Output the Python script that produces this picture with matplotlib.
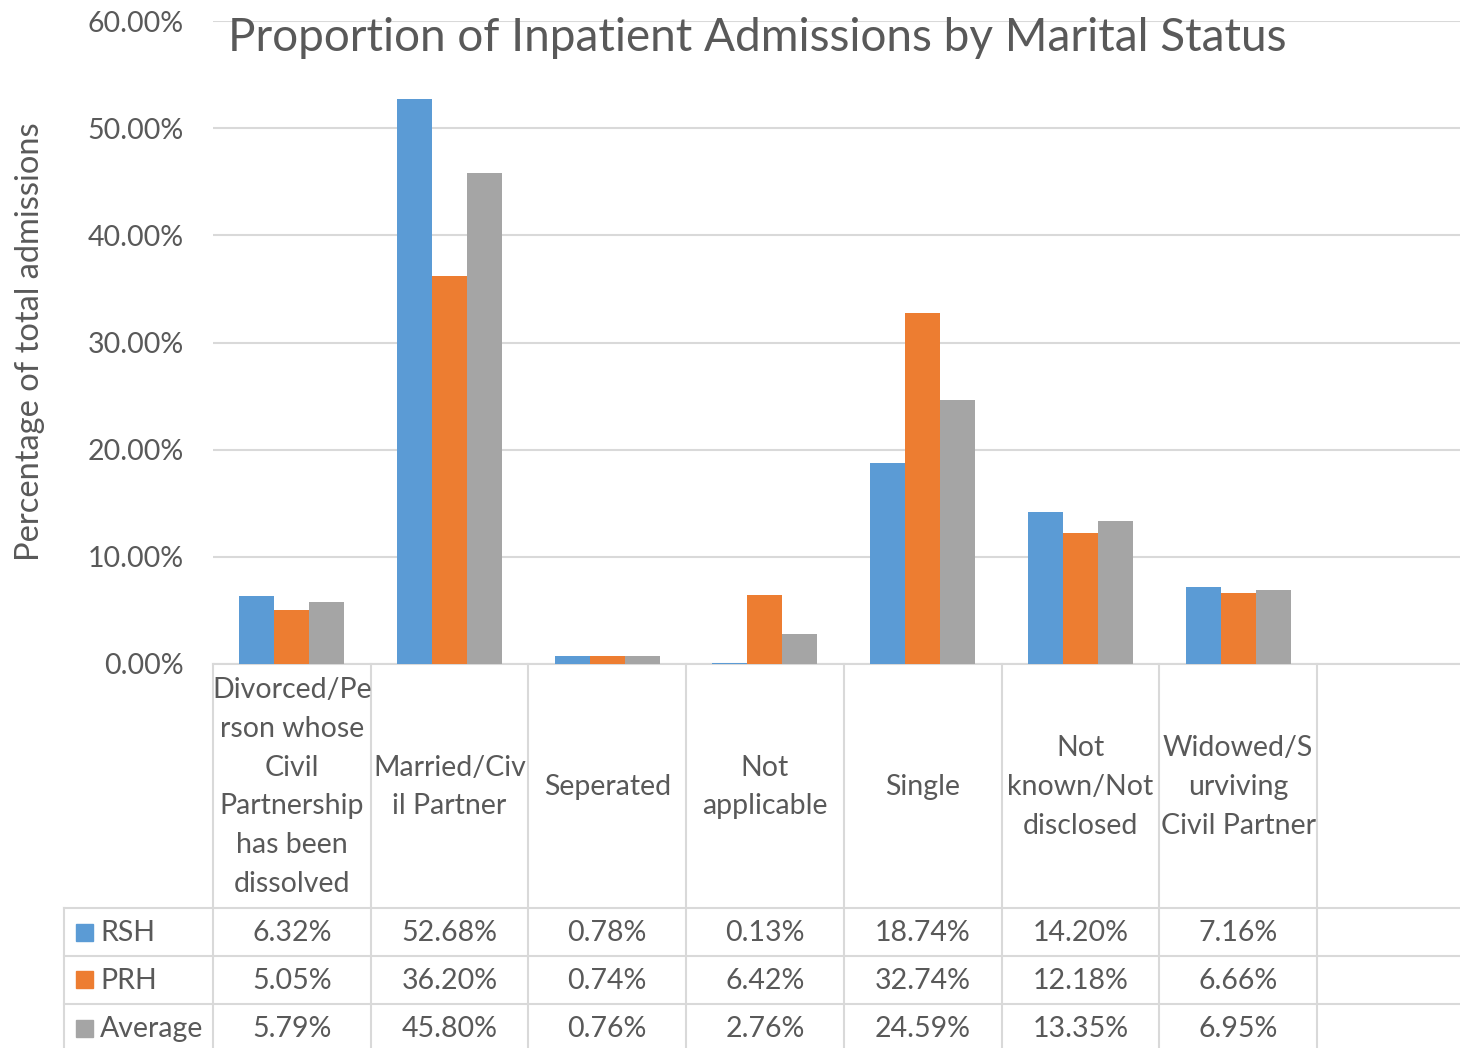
import numpy as np
import matplotlib.pyplot as plt
from matplotlib.patches import Rectangle

plt.rcParams['font.family'] = ['Lato', 'DejaVu Sans']

categories = ["Divorced/Pe\nrson whose\nCivil\nPartnership\nhas been\ndissolved",
              "Married/Civ\nil Partner",
              "Seperated",
              "Not\napplicable",
              "Single",
              "Not\nknown/Not\ndisclosed",
              "Widowed/S\nurviving\nCivil Partner"]
series_names = ["RSH", "PRH", "Average"]
rsh = [6.32, 52.68, 0.78, 0.13, 18.74, 14.20, 7.16]
prh = [5.05, 36.20, 0.74, 6.42, 32.74, 12.18, 6.66]
avg = [5.79, 45.80, 0.76, 2.76, 24.59, 13.35, 6.95]
yticks = [0, 10, 20, 30, 40, 50, 60]

colors = ["#5B9BD5", "#ED7D31", "#A5A5A5"]
text_c = "#595959"
line_c = "#D9D9D9"

W, H = 1460, 1048
left, right, top, base = 213, 1460, 21, 664
slot = 157.7          # width of one category in px
fs = 20.5

fig = plt.figure(figsize=(W / 100, H / 100), dpi=100)
ax = fig.add_axes([left / W, 1 - base / H, (right - left) / W, (base - top) / H])


def ay(py):
    # pixel row -> axes fraction
    return (base - py) / (base - top)


def dx(px):
    # pixel column -> data x
    return -0.5 + (px - left) / slot


x = np.arange(len(categories))
bw = 35 / slot
for k, vals in enumerate([rsh, prh, avg]):
    ax.bar(x + (k - 1) * bw, vals, bw, color=colors[k], zorder=3)

ax.set_xlim(-0.5, dx(right))
ax.set_ylim(0, 60)
ax.set_yticks(yticks)
ax.set_yticklabels([f"{t:.2f}%" for t in yticks])
ax.set_xticks([])
ax.yaxis.grid(True, color=line_c, lw=1.5)
ax.set_axisbelow(True)
for s in ["top", "right", "left"]:
    ax.spines[s].set_visible(False)
ax.spines["bottom"].set_color(line_c)
ax.spines["bottom"].set_linewidth(1.5)
ax.tick_params(axis="y", length=0, pad=21, labelsize=fs, colors=text_c)

# data table under the chart
tr = ax.get_xaxis_transform()
lkw = dict(color=line_c, lw=1.5, transform=tr, clip_on=False)
for i in range(len(categories) + 2):
    xv = i - 0.5
    ax.plot([xv, xv], [0, ay(H + 5)], **lkw)
for py in [908, 956, 1004]:
    ax.plot([dx(64), dx(right + 20)], [ay(py), ay(py)], **lkw)
ax.plot([dx(64), dx(64)], [ay(908), ay(H + 5)], **lkw)

for i, lab in enumerate(categories):
    ax.text(i, ay(787), lab, transform=tr, ha="center", va="center",
            fontsize=fs, color=text_c, linespacing=1.61)

for r, vals in enumerate([rsh, prh, avg]):
    yc = 933 + 48 * r
    ax.add_patch(Rectangle((dx(76), ay(yc + 7.5)), 17 / slot, 17 / (base - top),
                           transform=tr, color=colors[r], clip_on=False))
    ax.text(dx(100), ay(yc), series_names[r], transform=tr, ha="left", va="center",
            fontsize=fs, color=text_c)
    for i, v in enumerate(vals):
        ax.text(i, ay(yc), f"{v:.2f}%", transform=tr, ha="center", va="center",
                fontsize=fs, color=text_c)

fig.text(757 / W, 1 - 38 / H, "Proportion of Inpatient Admissions by Marital Status",
         ha="center", va="center", fontsize=33, color=text_c)
fig.text(30 / W, 1 - 342 / H, "Percentage of total admissions", rotation=90,
         ha="center", va="center", fontsize=23.5, color=text_c)

fig.savefig("out.png", dpi=100)
